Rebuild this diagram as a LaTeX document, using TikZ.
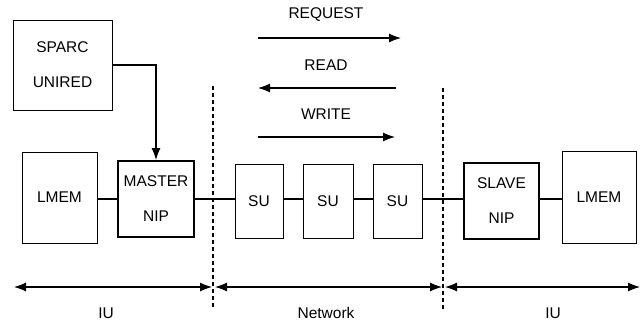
\documentclass[tikz,border=0pt]{standalone}
\usepackage{fontspec}
\setmainfont{Liberation Sans}
\usetikzlibrary{arrows.meta}
\begin{document}
\begin{tikzpicture}[x=1pt,y=-1pt,
  every node/.style={font=\fontsize{15.5}{35}\selectfont, inner sep=0pt, align=center},
  box/.style={draw, line width=1pt, rectangle},
  thickbox/.style={draw, line width=2pt, rectangle},
  link/.style={line width=1.1pt},
  arr/.style={line width=1.1pt, -{Latex[length=12pt,width=9pt]}},
  darr/.style={line width=1.1pt, {Latex[length=12pt,width=9pt]}-{Latex[length=12pt,width=9pt]}},
  sep/.style={line width=1.2pt, dash pattern=on 4pt off 3pt}]
\useasboundingbox (0,0) rectangle (644,322);
% boxes
\node[box, minimum width=99pt, minimum height=90pt] (sparc) at (62.5,65) {SPARC\\UNIRED};
\node[box, minimum width=75pt, minimum height=91pt] (lmemL) at (59.5,197.5) {LMEM};
\node[thickbox, minimum width=76pt, minimum height=76pt] (master) at (156,199) {MASTER\\NIP};
\node[box, minimum width=48pt, minimum height=74pt] (su1) at (259,201) {SU};
\node[box, minimum width=50pt, minimum height=74pt] (su2) at (328,201) {SU};
\node[box, minimum width=49pt, minimum height=74pt] (su3) at (397.5,201) {SU};
\node[thickbox, minimum width=75pt, minimum height=76pt] (slave) at (501.5,201) {SLAVE\\NIP};
\node[box, minimum width=74pt, minimum height=92pt] (lmemR) at (599,197) {LMEM};
% links
\draw[link] (lmemL.east |- 0,199) -- (master.west |- 0,199);
\draw[link] (master.east |- 0,199) -- (su1.west |- 0,199);
\draw[link] (su1.east |- 0,199) -- (su2.west |- 0,199);
\draw[link] (su2.east |- 0,199) -- (su3.west |- 0,199);
\draw[link] (su3.east |- 0,199) -- (slave.west |- 0,199);
\draw[link] (slave.east |- 0,199) -- (lmemR.west |- 0,199);
\draw[arr] (sparc.east) -| (master.north);
% separators
\coordinate (s1t) at (213,86); \coordinate (s1b) at (213,308);
\coordinate (s2t) at (443,88); \coordinate (s2b) at (443,310);
\draw[sep] (s1t) -- (s1b);
\draw[sep] (s2t) -- (s2b);
% top message arrows
\node (req) at (326,15) {REQUEST};
\node (read) at (326,65) {READ};
\node (write) at (326,114) {WRITE};
\coordinate (r1) at (258,38); \coordinate (r2) at (401,38);
\coordinate (d1) at (258,88); \coordinate (d2) at (396,88);
\coordinate (w1) at (258,137); \coordinate (w2) at (395,137);
\draw[arr] (r1) -- (r2);
\draw[arr] (d2) -- (d1);
\draw[arr] (w1) -- (w2);
% bottom ranges
\coordinate (a0) at (14,287); \coordinate (a1) at (212,287);
\coordinate (b0) at (215,287); \coordinate (b1) at (442,287);
\coordinate (c0) at (445,287); \coordinate (c1) at (640,287);
\draw[darr] (a0) -- (a1);
\draw[darr] (b0) -- (b1);
\draw[darr] (c0) -- (c1);
\node (iuL) at (106,313) {IU};
\node (net) at (326,313) {Network};
\node (iuR) at (553,313) {IU};
\end{tikzpicture}
\end{document}
